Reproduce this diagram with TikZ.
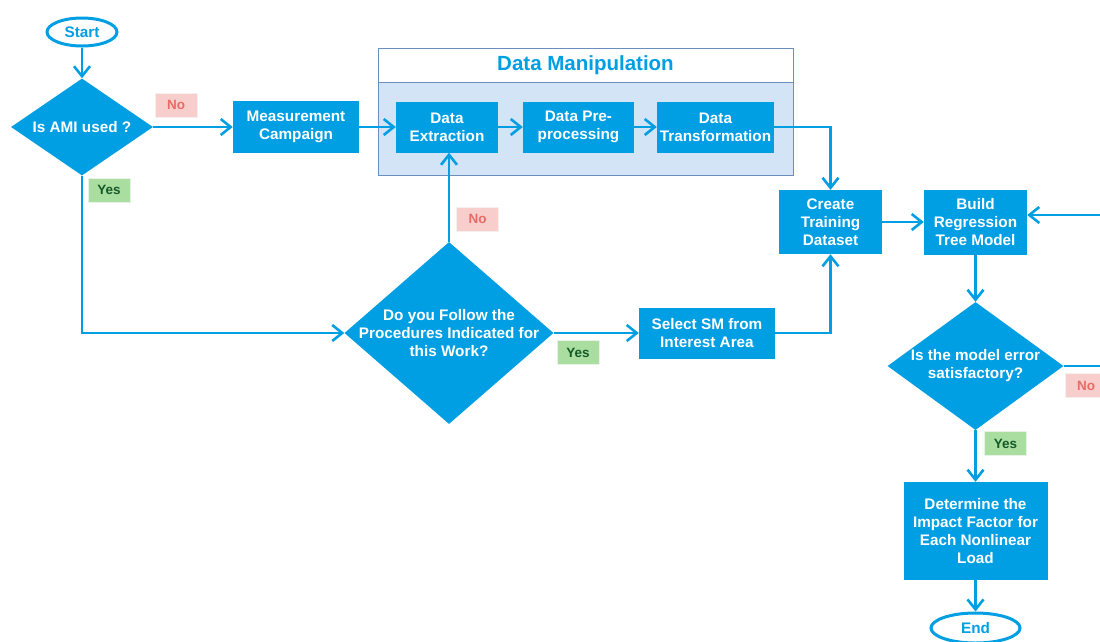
\documentclass[tikz,border=0pt]{standalone}
\usepackage{fontspec}
\setmainfont{Liberation Sans}
\usetikzlibrary{shapes.geometric,arrows.meta,positioning}
\definecolor{fblue}{RGB}{0,158,226}
\definecolor{dmfill}{RGB}{212,228,247}
\definecolor{dmline}{RGB}{108,142,191}
\definecolor{nofill}{RGB}{248,206,204}
\definecolor{notext}{RGB}{234,107,102}
\definecolor{yesfill}{RGB}{170,222,160}
\definecolor{yestext}{RGB}{20,90,40}
\tikzset{
  box/.style={rectangle, fill=fblue, text=white, align=center, inner sep=0pt,
    font=\fontsize{15.3}{18}\selectfont\bfseries},
  dia/.style={diamond, fill=fblue, inner sep=0pt, aspect=1},
  diatext/.style={text=white, align=center, font=\fontsize{15.3}{18}\selectfont\bfseries},
  term/.style={ellipse, draw=fblue, line width=3pt, fill=white, text=fblue, inner sep=0pt,
    font=\fontsize{15.3}{18}\selectfont\bfseries},
  nolab/.style={rectangle, fill=nofill, draw=nofill!85!black!20, text=notext, minimum width=42pt, minimum height=24pt,
    inner sep=0pt, font=\fontsize{13.5}{15}\selectfont\bfseries},
  yeslab/.style={rectangle, fill=yesfill, draw=yesfill!85!black!20, text=yestext, minimum width=42pt, minimum height=24pt,
    inner sep=0pt, font=\fontsize{13.5}{15}\selectfont\bfseries},
  flow/.style={draw=fblue, line width=2.6pt, -{Straight Barb[length=10pt,width=16pt,line width=2.6pt]}},
}
\begin{document}
\begin{tikzpicture}[x=1pt,y=-1pt]
\useasboundingbox (0,0) rectangle (1100,641);
\clip (0,0) rectangle (1100,641);
% container
\node[rectangle, draw=dmline, fill=dmfill, line width=1pt, minimum width=415pt, minimum height=127pt, inner sep=0pt] (dm) at (585.5,111.5) {};
\node[rectangle, draw=dmline, fill=white, line width=1pt, minimum width=415pt, minimum height=34pt, inner sep=0pt,
  text=fblue, font=\fontsize{20.5}{24}\selectfont\bfseries] (dmh) at (585.5,65) {Data Manipulation};
% nodes
\node[term, minimum width=70pt, minimum height=28pt] (start) at (82,32) {Start};
\node[dia, minimum width=142pt, minimum height=97pt] (ami) at (82,127) {};
\node[diatext] (amit) at (82,127) {Is AMI used ?};
\node[box, minimum width=126pt, minimum height=52pt] (meas) at (296,127) {Measurement\\Campaign};
\node[box, minimum width=102pt, minimum height=51pt] (ext) at (447,127) {Data\\Extraction};
\node[box, minimum width=111pt, minimum height=51pt] (pre) at (578.5,127) {Data Pre-\\processing};
\node[box, minimum width=117pt, minimum height=51pt] (trans) at (715.5,127) {Data\\Transformation};
\node[box, minimum width=103pt, minimum height=64pt] (train) at (830.5,222) {Create\\Training\\Dataset};
\node[box, minimum width=103pt, minimum height=65pt] (build) at (975.5,222) {Build\\Regression\\Tree Model};
\node[dia, minimum width=209pt, minimum height=182pt] (follow) at (449,333) {};
\node[diatext] (followt) at (449,333) {Do you Follow the\\Procedures Indicated for\\this Work?};
\node[box, minimum width=136pt, minimum height=51pt] (sel) at (707,333) {Select SM from\\Interest Area};
\node[dia, minimum width=176pt, minimum height=128pt] (err) at (975.5,366) {};
\node[diatext] (errt) at (975.5,366) {Is the model error\\satisfactory?};
\node[box, minimum width=144pt, minimum height=98pt] (det) at (975.5,531) {Determine the\\Impact Factor for\\Each Nonlinear\\Load};
\node[term, minimum width=89pt, minimum height=30pt] (end) at (975.5,628) {End};
\coordinate (loop) at (1112,215);
% labels
\node[nolab] (no1) at (176,105) {No};
\node[yeslab] (yes1) at (109,190) {Yes};
\node[nolab] (no2) at (477.5,219) {No};
\node[yeslab] (yes2) at (578,352.5) {Yes};
\node[nolab] (no3) at (1086,385.5) {No};
\node[yeslab] (yes3) at (1005.5,443.5) {Yes};
% connectors
\draw[flow] (start) -- (ami.north);
\draw[flow] (ami.east) -- (meas.west);
\draw[flow] (meas.east) -- (ext.west);
\draw[flow] (ext.east) -- (pre.west);
\draw[flow] (pre.east) -- (trans.west);
\draw[flow] (trans.east) -| (train.north);
\draw[flow] (train.east) -- (build.west);
\draw[flow] (ami.south) |- (follow.west);
\draw[flow] (follow.north) -- (follow.north |- ext.south);
\draw[flow] (follow.east) -- (sel.west);
\draw[flow] (sel.east) -| (train.south);
\draw[flow] (build.south) -- (err.north);
\draw[flow] (err.east) -| (loop) -- (build.east |- loop);
\draw[flow] (err.south) -- (det.north);
\draw[flow] (det.south) -- (end.north);
\end{tikzpicture}
\end{document}
